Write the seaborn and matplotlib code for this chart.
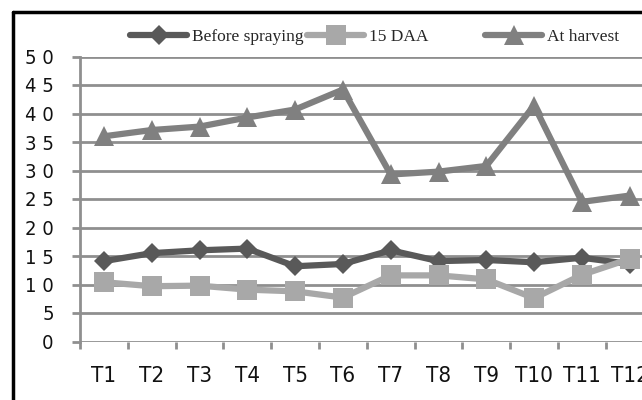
import matplotlib
matplotlib.use("Agg")
import matplotlib.pyplot as plt
from matplotlib.lines import Line2D
from matplotlib.ticker import FuncFormatter, FixedLocator
from matplotlib import font_manager
from matplotlib.font_manager import FontProperties
import seaborn as sns
import pandas as pd
import numpy as np

categories = ["T1", "T2", "T3", "T4", "T5", "T6", "T7", "T8", "T9", "T10", "T11", "T12"]
before_spraying = [14.1, 15.5, 16.0, 16.3, 13.2, 13.6, 16.0, 14.1, 14.3, 13.9, 14.7, 13.6]
daa15 = [10.4, 9.7, 9.8, 9.1, 8.8, 7.7, 11.6, 11.6, 10.9, 7.6, 11.7, 14.5]
at_harvest = [36.0, 37.1, 37.7, 39.3, 40.7, 44.2, 29.3, 29.8, 30.8, 41.4, 24.5, 25.6]
series_names = ["Before spraying", "15 DAA", "At harvest"]
y_ticks = [0, 5, 10, 15, 20, 25, 30, 35, 40, 45, 50]

sns.set_theme(style="white")

avail = {f.name for f in font_manager.fontManager.ttflist}
serif = "Liberation Serif" if "Liberation Serif" in avail else "DejaVu Serif"

# find a narrow / condensed sans font if one is installed
narrow_file = None
for f in font_manager.fontManager.ttflist:
    nm = f.name.lower()
    is_narrow = ("narrow" in nm or "condensed" in nm or
                 str(f.stretch) in ("condensed", "semi-condensed", "extra-condensed"))
    if (is_narrow and f.style == "normal" and
            str(f.weight) in ("400", "normal", "regular", "book") and "serif" not in nm.replace("sans", "")
            and "mono" not in nm):
        narrow_file = f.fname
        if "sans" in nm or "liberation" in nm:
            break


def nfp(size):
    if narrow_file:
        return FontProperties(fname=narrow_file, size=size)
    return FontProperties(family="DejaVu Sans", size=size)


fig = plt.figure(figsize=(6.42, 4.0), dpi=100)
W, H = 642.0, 400.0
x0, x1 = 80.0, 653.6
y0, y1 = 341.5, 56.5
ax = fig.add_axes([x0 / W, 1 - y0 / H, (x1 - x0) / W, (y0 - y1) / H])

grid_c = "#8f8f8f"
colors = ["#595959", "#a8a8a8", "#808080"]
markers = ["D", "s", "^"]
msizes = [10, 14, 14]
data = [before_spraying, daa15, at_harvest]

x_pos = np.arange(len(categories))
for name, vals, c, m, ms in zip(series_names, data, colors, markers, msizes):
    df = pd.DataFrame({"pos": x_pos, "val": vals})
    sns.lineplot(data=df, x="pos", y="val", ax=ax, color=c, marker=m,
                 markersize=ms, markeredgewidth=0, linewidth=4.5,
                 label=name, sort=False, zorder=3)

ax.set_xlim(-0.5, len(categories) - 0.5)
ax.set_ylim(0, 50)
ax.set_xlabel("")
ax.set_ylabel("")

# gridlines
ax.yaxis.set_major_locator(FixedLocator(y_ticks))
ax.grid(False)
for yv in y_ticks:
    ax.axhline(yv, color=grid_c, lw=2, zorder=1)

for s in ["top", "right", "bottom"]:
    ax.spines[s].set_visible(False)
ax.spines["left"].set_color(grid_c)
ax.spines["left"].set_linewidth(2)

ax.yaxis.set_major_formatter(FuncFormatter(lambda v, p: " ".join(str(int(round(v))))))
ax.tick_params(axis="y", which="major", length=6, width=2, color=grid_c,
               pad=13, labelcolor="#111111", left=True)
for lab in ax.get_yticklabels():
    lab.set_fontproperties(nfp(14.5 if narrow_file else 13.5))

ax.set_xticks(x_pos)
ax.set_xticklabels(categories)
ax.set_xticks(np.arange(-0.5, len(categories), 1.0), minor=True)
ax.tick_params(axis="x", which="major", length=0, pad=18,
               labelcolor="#111111", bottom=True)
ax.tick_params(axis="x", which="minor", length=5, width=2, color=grid_c, bottom=True)
for lab in ax.get_xticklabels():
    lab.set_fontproperties(nfp(16 if narrow_file else 15))

ax.get_legend().remove()

# legend: three equal-width Excel-style entries
handles = [Line2D([], [], color=c, marker=m, markersize=ms, markeredgewidth=0, lw=4.5)
           for c, m, ms in zip(colors, markers, msizes)]
starts = [130, 307, 485]
for h, name, sx in zip(handles, series_names, starts):
    fig.legend([h], [name], loc="center left",
               bbox_to_anchor=(sx / W, 1 - 37 / H), frameon=False,
               borderpad=0, borderaxespad=0, handlelength=3.3,
               handletextpad=0.25, prop={"family": serif, "size": 12.5})

# black outer frame (cropped chart border)
fl = 13 / W
ft = 1 - 12 / H
fig.add_artist(Line2D([fl, fl], [0, ft], color="black", lw=2.5, transform=fig.transFigure))
fig.add_artist(Line2D([fl, 1], [ft, ft], color="black", lw=2.5, transform=fig.transFigure))

fig.savefig("out.png", dpi=100)
